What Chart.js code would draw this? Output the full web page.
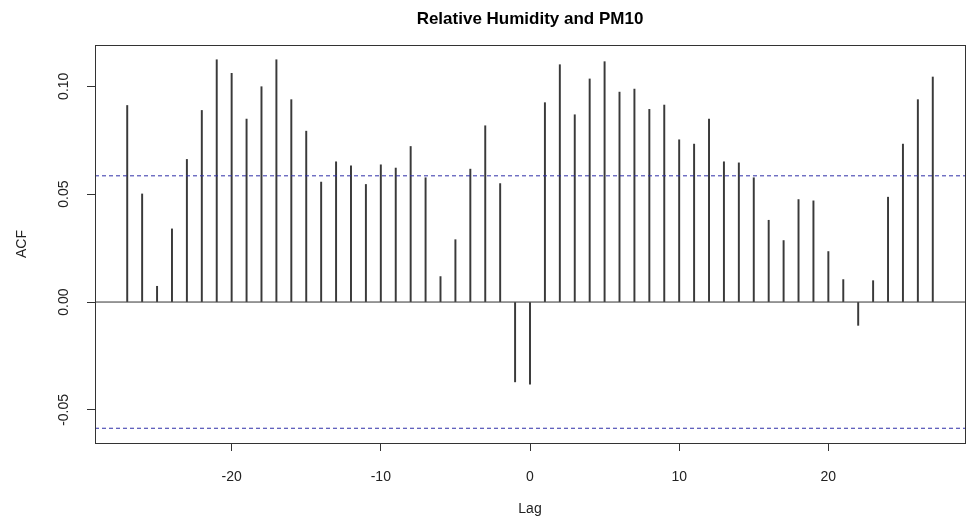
<!DOCTYPE html>
<html>
<head>
<meta charset="utf-8">
<script src="https://cdn.jsdelivr.net/npm/chart.js@4/dist/chart.umd.min.js"></script>
<style>
  html, body { margin: 0; padding: 0; background: #fff; }
  #wrap { width: 971px; height: 522px; }
</style>
</head>
<body>
<div id="wrap"><canvas id="ccf"></canvas></div>
<script>
// lags and cross-correlation values
const lags = [-27,-26,-25,-24,-23,-22,-21,-20,-19,-18,-17,-16,-15,-14,-13,-12,-11,-10,-9,-8,-7,-6,-5,-4,-3,-2,-1,
  0,1,2,3,4,5,6,7,8,9,10,11,12,13,14,15,16,17,18,19,20,21,22,23,24,25,26,27];
const acfValues = [0.0911,0.0501,0.0073,0.0339,0.0661,0.0888,0.1123,0.1060,0.0848,0.0998,0.1123,0.0938,0.0792,
  0.0556,0.0650,0.0631,0.0545,0.0636,0.0621,0.0721,0.0576,0.0118,0.0289,0.0616,0.0817,0.0549,-0.0370,
  -0.0381,0.0924,0.1100,0.0868,0.1034,0.1114,0.0973,0.0987,0.0893,0.0913,0.0752,0.0732,0.0848,0.0650,0.0645,0.0576,
  0.0379,0.0285,0.0475,0.0469,0.0234,0.0104,-0.0108,0.0099,0.0486,0.0732,0.0938,0.1043];
const ciLimit = 0.0585;
const xTicks = [-20, -10, 0, 10, 20];
const yTicks = [-0.05, 0, 0.05, 0.10];

// R style axis ranges (4% extension)
const lagPad = (Math.max(...lags) - Math.min(...lags)) * 0.04;
const xMin = Math.min(...lags) - lagPad, xMax = Math.max(...lags) + lagPad;
const yLo = Math.min(...acfValues, -ciLimit), yHi = Math.max(...acfValues, ciLimit);
const yPad = (yHi - yLo) * 0.04;

const font = 'Arial, "Liberation Sans", sans-serif';

const rPlot = {
  id: 'rPlot',
  afterDraw(chart) {
    const ctx = chart.ctx, a = chart.chartArea, ys = chart.scales.y;
    ctx.save();
    // box
    ctx.strokeStyle = '#333';
    ctx.lineWidth = 1;
    ctx.strokeRect(Math.round(a.left) + 0.5, Math.round(a.top) + 0.5, Math.round(a.right - a.left), Math.round(a.bottom - a.top));
    // title
    ctx.fillStyle = '#000';
    ctx.font = 'bold 17px ' + font;
    ctx.textAlign = 'center';
    ctx.textBaseline = 'middle';
    ctx.fillText('Relative Humidity and PM10', (a.left + a.right) / 2, 19);
    // rotated y tick labels
    ctx.font = '14px ' + font;
    ctx.fillStyle = '#222';
    yTicks.forEach(v => {
      const y = ys.getPixelForValue(v);
      ctx.save();
      ctx.translate(64, y);
      ctx.rotate(-Math.PI / 2);
      ctx.fillText(v.toFixed(2), 0, 0);
      ctx.restore();
    });
    ctx.restore();
  }
};

new Chart(document.getElementById('ccf'), {
  type: 'bar',
  data: {
    datasets: [
      {
        type: 'bar',
        data: lags.map((l, i) => ({ x: l, y: acfValues[i] })),
        backgroundColor: '#3a3a3a',
        barThickness: 1.3,
        order: 2
      },
      {
        type: 'line',
        data: [{ x: xMin, y: 0 }, { x: xMax, y: 0 }],
        borderColor: '#333', borderWidth: 1, pointRadius: 0, order: 1
      },
      {
        type: 'line',
        data: [{ x: xMin, y: ciLimit }, { x: xMax, y: ciLimit }],
        borderColor: '#2f2fa8', borderWidth: 1, borderDash: [4, 3], pointRadius: 0, order: 1
      },
      {
        type: 'line',
        data: [{ x: xMin, y: -ciLimit }, { x: xMax, y: -ciLimit }],
        borderColor: '#2f2fa8', borderWidth: 1, borderDash: [4, 3], pointRadius: 0, order: 1
      }
    ]
  },
  options: {
    responsive: true,
    maintainAspectRatio: false,
    animation: false,
    layout: { padding: { top: 45, right: 6, left: 0, bottom: 0 } },
    plugins: { legend: { display: false }, tooltip: { enabled: false } },
    scales: {
      x: {
        type: 'linear',
        offset: false,
        min: xMin, max: xMax,
        afterBuildTicks: s => { s.ticks = xTicks.map(v => ({ value: v })); },
        afterFit: s => { s.height = 79; },
        grid: { offset: false, drawOnChartArea: false, drawTicks: true, tickLength: 8, tickColor: '#333' },
        border: { display: false },
        ticks: { color: '#222', font: { family: font, size: 14 }, padding: 18, maxRotation: 0 },
        title: { display: true, text: 'Lag', color: '#222', font: { family: font, size: 14 }, padding: { top: 8 } }
      },
      y: {
        min: yLo - yPad, max: yHi + yPad,
        afterBuildTicks: s => { s.ticks = yTicks.map(v => ({ value: v })); },
        afterFit: s => { s.width = 95; },
        grid: { drawOnChartArea: false, drawTicks: true, tickLength: 8, tickColor: '#333' },
        border: { display: false },
        ticks: { display: false },
        title: { display: true, text: 'ACF', color: '#222', font: { family: font, size: 14 }, padding: { bottom: 0, top: 14 } }
      }
    }
  },
  plugins: [rPlot]
});
</script>
</body>
</html>
